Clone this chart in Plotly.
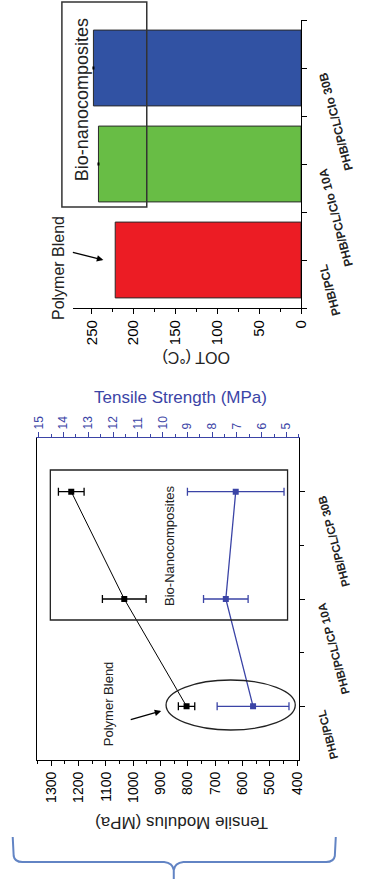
import plotly.graph_objects as go

W, H = 365, 879
def px(x): return x / W
def py(y): return 1 - y / H

# ---- data ----
bar_labels = ["PHB/PCL", "PHB/PCL/Clo 10A", "PHB/PCL/Clo 30B"]
oot = [222, 242, 248]
oot_err = [0, 1.2, 1.2]
oot_ticks = [0, 50, 100, 150, 200, 250]

line_labels = ["PHB/PCL", "PHB/PCL/CP 10A", "PHB/PCL/CP 30B"]
modulus = [805, 1033, 1227]
modulus_err = [30, 80, 47]
strength = [6.35, 7.45, 7.05]
strength_err = [1.45, 0.9, 1.95]
modulus_ticks = [400, 500, 600, 700, 800, 900, 1000, 1100, 1200, 1300]
strength_ticks = [5, 6, 7, 8, 9, 10, 11, 12, 13, 14, 15]

bar_colors = ["#ec1c24", "#68bd45", "#3152a3"]
BLUE = "#3b44a6"
FONT = "Arial, Liberation Sans, sans-serif"

idx = list(range(len(bar_labels)))

fig = go.Figure()

fig.add_trace(go.Bar(
    x=oot, y=idx, orientation="h", width=0.79,
    marker=dict(color=bar_colors, line=dict(color="#2a2a2a", width=1)),
    error_x=dict(type="data", array=oot_err, color="black", thickness=3, width=0),
    xaxis="x", yaxis="y", showlegend=False))

fig.add_trace(go.Scatter(
    x=modulus, y=idx, mode="lines+markers",
    line=dict(color="black", width=1),
    marker=dict(symbol="square", size=6, color="black"),
    error_x=dict(type="data", array=modulus_err, color="black", thickness=1.3, width=4),
    xaxis="x2", yaxis="y2", showlegend=False))

fig.add_trace(go.Scatter(
    x=strength, y=idx, mode="lines+markers",
    line=dict(color=BLUE, width=1.3),
    marker=dict(symbol="square", size=6, color=BLUE),
    error_x=dict(type="data", array=strength_err, color=BLUE, thickness=1.3, width=4),
    xaxis="x3", yaxis="y2", showlegend=False))

common = dict(showgrid=False, zeroline=False, showline=True, linecolor="black", linewidth=1.3,
              ticks="outside", tickcolor="black", tickwidth=1.2)

layout = dict(
    width=W, height=H, margin=dict(l=0, r=0, t=0, b=0),
    plot_bgcolor="white", paper_bgcolor="white",
    font=dict(family=FONT, color="black"),
    xaxis=dict(domain=[px(70), px(307)], range=[273, 0], anchor="y",
               tickmode="array", tickvals=oot_ticks, tickangle=-90, ticklen=5,
               tickfont=dict(size=15),
               minor=dict(dtick=25, tick0=0, ticks="outside", ticklen=3, tickcolor="black"),
               **common),
    yaxis=dict(domain=[py(308), py(20)], range=[-0.5, 2.5], anchor="x", side="right",
               tickmode="array", tickvals=idx, showticklabels=False, ticklen=5,
               minor=dict(tickmode="array", tickvals=[-0.5, 0.5, 1.5, 2.5], ticks="outside",
                          ticklen=5, tickcolor="black"),
               **common),
    xaxis2=dict(domain=[px(33), px(305)], range=[1353, 393], anchor="y2", side="bottom",
                tickmode="array", tickvals=modulus_ticks, tickangle=-90, ticklen=5,
                tickfont=dict(size=14),
                minor=dict(dtick=50, tick0=0, ticks="outside", ticklen=3, tickcolor="black"),
                **common),
    xaxis3=dict(overlaying="x2", range=[15.08, 4.49], anchor="y2", side="top",
                tickmode="array", tickvals=strength_ticks, tickangle=-90, ticklen=5,
                tickfont=dict(size=12, color=BLUE),
                minor=dict(dtick=0.5, tick0=0, ticks="outside", ticklen=3, tickcolor=BLUE),
                showgrid=False, zeroline=False, showline=True, linecolor=BLUE, linewidth=1.3,
                ticks="outside", tickcolor=BLUE, tickwidth=1.2),
    yaxis2=dict(domain=[py(760), py(438)], range=[-0.5, 2.5], anchor="x2", side="right",
                tickmode="array", tickvals=idx, showticklabels=False, ticklen=5, mirror=True,
                minor=dict(tickmode="array", tickvals=[0.5, 1.5], ticks="outside",
                           ticklen=4, tickcolor="black"),
                **common),
    yaxis3=dict(overlaying="y2", range=[-0.5, 2.5], anchor="x2", side="left",
                tickmode="array", tickvals=idx, showticklabels=False, ticks="inside",
                ticklen=5, tickcolor="black", showline=False, showgrid=False, zeroline=False),
)
fig.update_layout(**layout)

ann = []
LBL1 = dict(size=12, family="Liberation Sans, Arial, sans-serif", color="#222")
LBL2 = dict(size=11.5, family="Liberation Sans, Arial, sans-serif", color="#222")
# category labels (slanted)
for i, t in enumerate(bar_labels):
    ann.append(dict(text="<b>" + t + "</b>", xref="paper", yref="y", x=px(320), y=idx[i], xanchor="left",
                    yanchor="top", textangle=-105, showarrow=False, font=LBL1))
for i, t in enumerate(line_labels):
    ann.append(dict(text="<b>" + t + "</b>", xref="paper", yref="y2", x=px(320), y=idx[i], xanchor="left",
                    yanchor="top", textangle=-105, showarrow=False, font=LBL2))

C = dict(xanchor="center", yanchor="middle", showarrow=False, xref="paper", yref="paper")
# titles
ann.append(dict(text="OOT (°C)", x=px(198), y=py(358), textangle=180,
                font=dict(size=16, color="#222"), **C))
ann.append(dict(text="Tensile Strength (MPa)", x=px(182), y=py(398),
                font=dict(size=17, color=BLUE), **C))
ann.append(dict(text="Tensile Modulus (MPa)", x=px(183), y=py(823), textangle=180,
                font=dict(size=17, color="#222"), **C))

# in-plot notes
ann.append(dict(text="Bio-nanocomposites", x=px(80), y=py(100), textangle=-90,
                font=dict(size=18, color="#222"), **C))
ann.append(dict(text="Polymer Blend", x=px(55), y=py(268), textangle=-90,
                font=dict(size=16, color="#222"), **C))
ann.append(dict(text="", xref="paper", yref="paper", x=px(102), y=py(260), ax=-32, ay=-8,
                showarrow=True, arrowhead=2, arrowsize=1, arrowwidth=1.3, arrowcolor="black"))
ann.append(dict(text="Bio-Nanocomposites", x=px(170), y=py(546), textangle=-90,
                font=dict(size=13, color="#222"), **C))
ann.append(dict(text="Polymer Blend", x=px(107), y=py(704), textangle=-90,
                font=dict(size=13, color="#222"), **C))
ann.append(dict(text="", xref="paper", yref="paper", x=px(162), y=py(711), ax=-32, ay=9,
                showarrow=True, arrowhead=2, arrowsize=1, arrowwidth=1.3, arrowcolor="black"))
fig.update_layout(annotations=ann)

shapes = [
    dict(type="rect", xref="paper", yref="paper", x0=px(59), x1=px(147), y0=py(207), y1=py(2),
         line=dict(color="#333", width=1.5)),
    dict(type="rect", xref="paper", yref="paper", x0=px(47), x1=px(293), y0=py(620), y1=py(470),
         line=dict(color="#222", width=1.3)),
    dict(type="circle", xref="paper", yref="paper", x0=px(167), x1=px(301), y0=py(730), y1=py(680),
         line=dict(color="#222", width=1.3)),
]
def P(x, y): return f"{px(x):.5f},{py(y):.5f}"
brace = ("M " + P(8, 837) + " L " + P(9, 856) + " Q " + P(10, 862) + " " + P(18, 862) +
         " L " + P(165, 862) + " Q " + P(174, 863) + " " + P(175, 870) + " L " + P(175, 879) +
         " M " + P(175, 870) + " Q " + P(176, 863) + " " + P(185, 862) +
         " L " + P(333, 862) + " Q " + P(341, 862) + " " + P(342, 856) + " L " + P(343, 837))
shapes.append(dict(type="path", xref="paper", yref="paper", path=brace,
                   line=dict(color="#6284c4", width=2)))
fig.update_layout(shapes=shapes)

fig.write_html("out.html")
